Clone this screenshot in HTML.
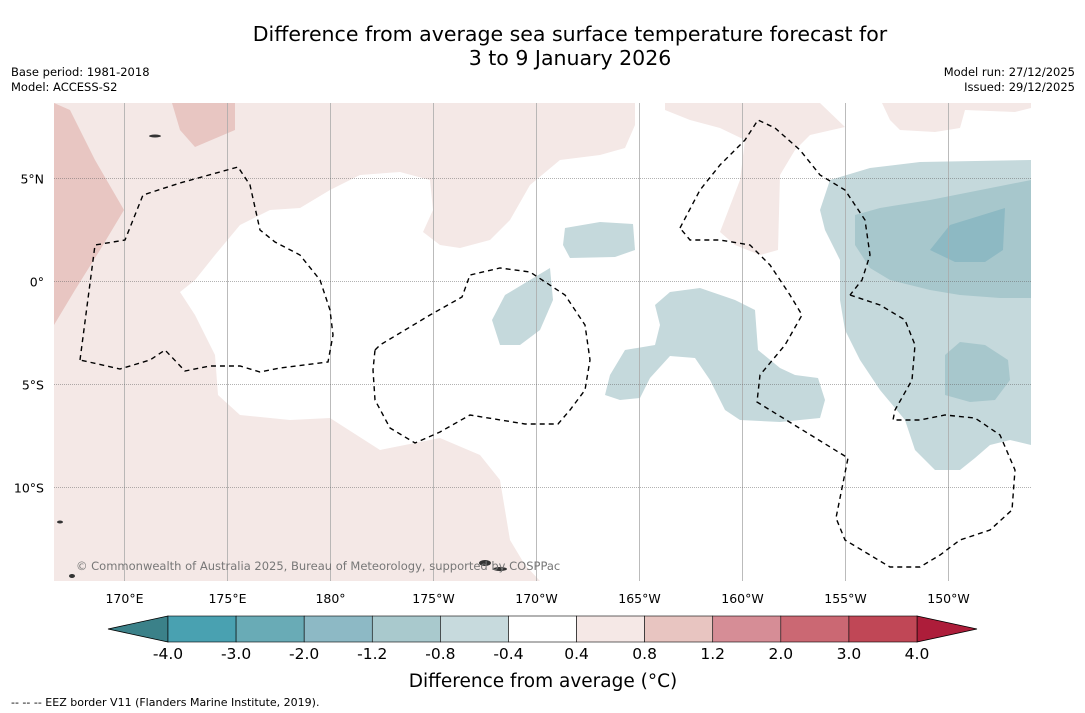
<!DOCTYPE html>
<html><head><meta charset="utf-8">
<style>
body{margin:0;background:#fff;width:1085px;height:713px;overflow:hidden;font-family:"DejaVu Sans","Liberation Sans",sans-serif;}
svg{position:absolute;left:0;top:0}
</style></head>
<body>
<svg id="s" width="1085" height="713" font-family="DejaVu Sans, Liberation Sans, sans-serif">
<text x="570" y="41" text-anchor="middle" font-size="20.5">Difference from average sea surface temperature forecast for</text>
<text x="570" y="65" text-anchor="middle" font-size="20.5">3 to 9 January 2026</text>
<text x="11" y="76" font-size="11.5">Base period: 1981-2018</text>
<text x="11" y="91" font-size="11.5">Model: ACCESS-S2</text>
<text x="1075" y="76" font-size="11.5" text-anchor="end">Model run: 27/12/2025</text>
<text x="1075" y="91" font-size="11.5" text-anchor="end">Issued: 29/12/2025</text>
<defs><clipPath id="mc"><rect x="54" y="103" width="977" height="478"/></clipPath></defs>
<g clip-path="url(#mc)">
<rect x="54" y="103" width="977" height="478" fill="#fff"/>
<polygon fill="#f4e8e6" points="54,103 635,103 635,125 625,148 600,155 560,160 530,185 510,220 490,240 460,248 440,245 423,232 433,210 430,180 400,172 360,175 330,190 300,208 270,210 240,225 215,255 195,280 180,292 195,315 215,355 218,395 240,415 290,420 330,418 380,450 440,438 480,455 500,480 510,540 525,565 540,581 54,581"/>
<polygon fill="#e8c6c2" points="54,103 70,110 95,160 124,210 100,250 75,290 54,325"/>
<polygon fill="#e8c6c2" points="172,103 235,103 235,130 195,147 180,130"/>
<polygon fill="#f4e8e6" points="665,103 820,103 845,127 810,135 795,150 780,175 778,250 760,255 735,245 720,232 740,180 745,140 720,128 690,120 665,110"/>
<polygon fill="#f4e8e6" points="882,103 1031,103 1031,108 1015,112 965,110 960,128 935,132 900,130 890,120"/>
<polygon fill="#c5d9dc" points="820,210 830,180 870,168 920,162 1031,160 1031,445 1010,440 990,445 975,458 960,470 935,470 915,450 905,420 880,390 860,360 845,330 840,300 840,260 825,230"/>
<polygon fill="#a7c7cc" points="855,215 880,208 930,200 1031,180 1031,298 1000,298 960,295 930,290 890,280 870,268 855,245"/>
<polygon fill="#8db9c3" points="930,250 950,225 1005,208 1003,250 985,262 955,262"/>
<polygon fill="#a7c7cc" points="945,355 960,342 985,345 1008,360 1010,380 995,400 970,402 945,395"/>
<polygon fill="#c5d9dc" points="605,395 610,375 625,350 655,345 660,325 655,305 670,292 700,288 735,300 755,310 758,350 780,368 795,375 818,378 825,400 820,418 780,422 740,420 725,410 710,380 695,358 670,356 650,378 640,398 620,400"/>
<polygon fill="#c5d9dc" points="492,320 505,295 530,280 550,268 553,300 540,330 520,345 500,345"/>
<polygon fill="#c5d9dc" points="565,228 600,222 633,224 635,250 615,257 570,258 563,245"/>
<g id="grid"></g>
<g fill="none" stroke="#000" stroke-width="1.4" stroke-dasharray="5,4">
<polyline points="80,360 95,245 125,240 143,195 180,183 238,167 250,185 260,230 275,242 300,255 320,280 330,310 333,335 328,362 280,368 260,372 240,366 210,366 185,371 165,350 150,360 120,369 80,360"/>
<polyline points="375,350 380,345 430,315 462,297 470,275 500,268 530,272 565,295 585,325 590,360 585,390 570,410 558,424 525,424 470,415 440,432 415,443 390,428 375,400 373,370 375,350"/>
<polyline points="680,228 700,190 720,165 745,140 758,120 775,128 800,150 820,175 845,190 865,220 870,255 862,280 850,295"/>
<polyline points="850,295 880,305 905,320 915,345 912,380 895,410 893,420 920,420 945,415 975,418 1000,435 1015,470 1012,510 990,530 960,540 940,555 920,567 890,567 870,555 845,540 836,518 848,458 757,402 760,375 785,345 802,315 790,295 770,265 750,245 720,240 690,240 680,228"/>
</g>
<g fill="#333">
<ellipse cx="485" cy="563" rx="6" ry="3"/><ellipse cx="500" cy="569" rx="7" ry="2"/><ellipse cx="72" cy="576" rx="3" ry="2"/><ellipse cx="60" cy="522" rx="3" ry="1.5"/><ellipse cx="155" cy="136" rx="6" ry="1.5"/>
</g>
<text x="76" y="570" font-size="11.5" fill="#777">© Commonwealth of Australia 2025, Bureau of Meteorology, supported by COSPPac</text>
</g>
<g id="ticks"></g>
<g id="cbar"></g>
<text x="543" y="687" text-anchor="middle" font-size="18.5">Difference from average (°C)</text>
<text x="11" y="706" font-size="11">--  --  -- EEZ border V11 (Flanders Marine Institute, 2019).</text>
</svg>
<script>
const lonTicks=["170°E","175°E","180°","175°W","170°W","165°W","160°W","155°W","150°W"];
const lonValues=[170,175,180,185,190,195,200,205,210];
const latTicks=["5°N","0°","5°S","10°S"];
const latValues=[5,0,-5,-10];
const cbarLevels=["-4.0","-3.0","-2.0","-1.2","-0.8","-0.4","0.4","0.8","1.2","2.0","3.0","4.0"];
const cbarColors=["#49a1b1","#69abb6","#8db9c5","#a9c9cd","#c7dadd","#ffffff","#f5e8e6","#e8c5c1","#d68d96","#cb6873","#c04756"];
const cbarExtColors=["#3b8189","#ad1d3a"];
const NS="http://www.w3.org/2000/svg";
const xLon=l=>124+(l-170)*20.6;
const yLat=l=>281-l*20.6;
function mk(tag,attrs,parent){const e=document.createElementNS(NS,tag);for(const k in attrs)e.setAttribute(k,attrs[k]);parent.appendChild(e);return e;}
const grid=document.getElementById('grid'),ticks=document.getElementById('ticks'),cb=document.getElementById('cbar');
lonValues.forEach((v,i)=>{
 const x=Math.round(xLon(v))+0.5;
 const l=mk('line',{x1:x,x2:x,y1:103,y2:581,stroke:'#aaa','stroke-width':0.8},grid);
 
 
 const t=mk('text',{x:x,y:603,'text-anchor':'middle','font-size':12.5},ticks);
 t.textContent=lonTicks[i];
 
 
});
latValues.forEach((v,i)=>{
 const y=Math.round(yLat(v))+0.5;
 const l=mk('line',{x1:54,x2:1031,y1:y,y2:y,stroke:'#666','stroke-width':0.6,'stroke-dasharray':'1,1'},grid);
 
 
 const t=mk('text',{x:44,y:y+5,'text-anchor':'end','font-size':12.5},ticks);
 t.textContent=latTicks[i];
 
 
});
const cx0=168,cx1=917,cy=616,ch=26,n=cbarColors.length,w=(cx1-cx0)/n;
const le=mk('polygon',{points:`${cx0},${cy} ${cx0},${cy+ch} 108,${cy+ch/2}`,fill:cbarExtColors[0],stroke:'#000','stroke-width':0.8},cb);


const re=mk('polygon',{points:`${cx1},${cy} ${cx1},${cy+ch} 977,${cy+ch/2}`,fill:cbarExtColors[1],stroke:'#000','stroke-width':0.8},cb);


cbarColors.forEach((c,i)=>{
 const r=mk('rect',{x:cx0+i*w,y:cy,width:w,height:ch,fill:c,stroke:'#000','stroke-width':0.6},cb);
 
 
});
cbarLevels.forEach((lab,i)=>{
 const t=mk('text',{x:cx0+i*w,y:659,'text-anchor':'middle','font-size':15.5},cb);
 t.textContent=lab;
 
 
});
</script>
</body></html>
